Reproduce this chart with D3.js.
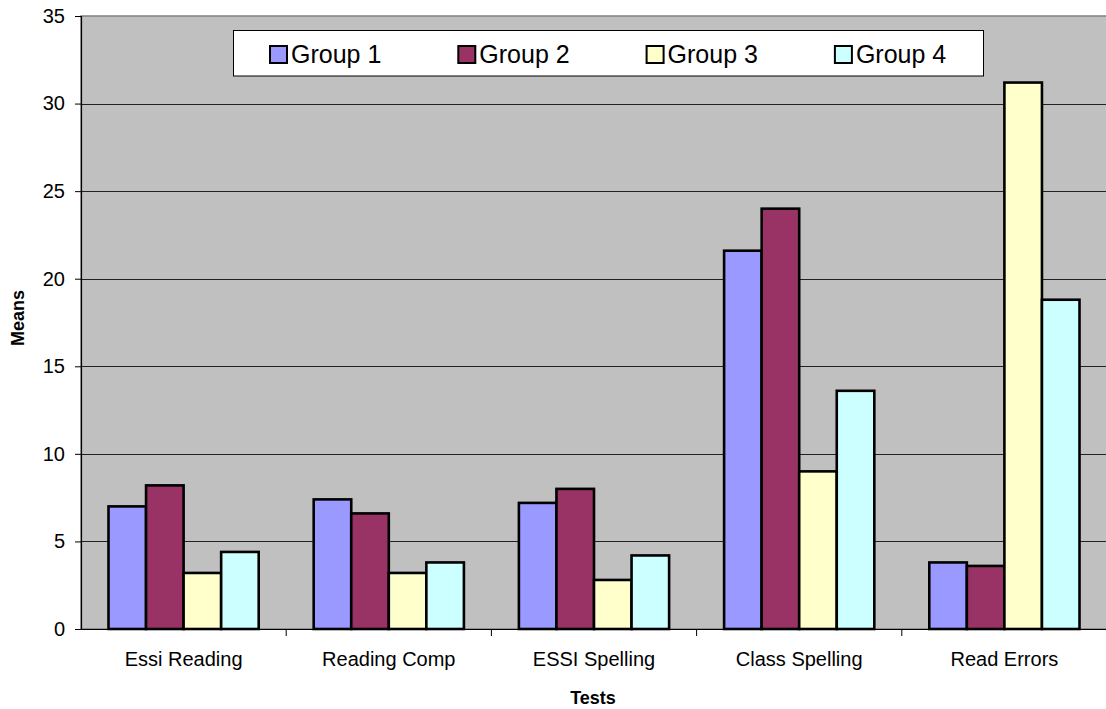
<!DOCTYPE html>
<html>
<head>
<meta charset="utf-8">
<script src="https://cdn.jsdelivr.net/npm/d3@7"></script>
<style>
  html, body { margin: 0; padding: 0; background: #fff; }
  svg { display: block; font-family: "Liberation Sans", Arial, sans-serif; }
</style>
</head>
<body>
<svg id="chart" width="1106" height="709"></svg>
<script>
// Test categories and group means
const tests = ["Essi Reading", "Reading Comp", "ESSI Spelling", "Class Spelling", "Read Errors"];
const groups = ["Group 1", "Group 2", "Group 3", "Group 4"];
const group1 = [7.0, 7.4, 7.2, 21.6, 3.8];
const group2 = [8.2, 6.6, 8.0, 24.0, 3.6];
const group3 = [3.2, 3.2, 2.8, 9.0, 31.2];
const group4 = [4.4, 3.8, 4.2, 13.6, 18.8];
const yTicks = [0, 5, 10, 15, 20, 25, 30, 35];
const colors = ["#9999FF", "#993366", "#FFFFCC", "#CCFFFF"];

const seriesValues = [group1, group2, group3, group4];
const rows = tests.map((t, i) => ({
  test: t,
  values: groups.map((g, j) => ({ group: g, value: seriesValues[j][i], idx: j }))
}));

const svg = d3.select("#chart");
const plot = { left: 81, top: 16, right: 1107, bottom: 629 };

const x = d3.scaleBand().domain(tests).range([plot.left, plot.right]).padding(0);
const inner = d3.scaleBand().domain(groups)
  .range([x.bandwidth() * 0.134, x.bandwidth() * 0.866]).padding(0);
const y = d3.scaleLinear().domain([0, 35]).range([plot.bottom, plot.top]);

// plot background
svg.append("rect")
  .attr("x", plot.left).attr("y", plot.top)
  .attr("width", plot.right - plot.left).attr("height", plot.bottom - plot.top)
  .attr("fill", "#C0C0C0").attr("stroke", "#808080").attr("stroke-width", 1.5);

// horizontal gridlines
svg.append("g").selectAll("line")
  .data(yTicks.filter(d => d > 0 && d < 35))
  .join("line")
  .attr("x1", plot.left).attr("x2", plot.right)
  .attr("y1", d => Math.round(y(d)) + 0.5).attr("y2", d => Math.round(y(d)) + 0.5)
  .attr("stroke", "#222").attr("stroke-width", 1);

// bars
const groupsG = svg.append("g").selectAll("g")
  .data(rows).join("g")
  .attr("transform", d => `translate(${x(d.test)},0)`);

groupsG.selectAll("rect")
  .data(d => d.values).join("rect")
  .attr("x", d => inner(d.group))
  .attr("y", d => y(d.value))
  .attr("width", inner.bandwidth())
  .attr("height", d => y(0) - y(d.value))
  .attr("fill", d => colors[d.idx])
  .attr("stroke", "#000").attr("stroke-width", 2.6);

// y axis
const yAxis = d3.axisLeft(y).tickValues(yTicks).tickSize(6).tickPadding(10).tickFormat(d3.format("d"));
const yg = svg.append("g").attr("transform", `translate(${plot.left},0)`).call(yAxis);
yg.select(".domain").attr("stroke", "#000").attr("stroke-width", 1.2);
yg.selectAll(".tick line").attr("stroke", "#000");
yg.selectAll(".tick text").attr("font-size", 20).attr("fill", "#000")
  .attr("font-family", "Liberation Sans, Arial, sans-serif");

// x axis with ticks at band boundaries
const xg = svg.append("g").attr("transform", `translate(0,${plot.bottom})`);
xg.append("line").attr("x1", plot.left).attr("x2", plot.right)
  .attr("y1", 0.5).attr("y2", 0.5).attr("stroke", "#000").attr("stroke-width", 1.2);
xg.selectAll(".bt").data(tests.slice(1)).join("line")
  .attr("class", "bt")
  .attr("x1", d => x(d)).attr("x2", d => x(d))
  .attr("y1", 0).attr("y2", 7).attr("stroke", "#000");
xg.selectAll(".cl").data(tests).join("text")
  .attr("class", "cl")
  .attr("x", d => x(d) + x.bandwidth() / 2)
  .attr("y", 37)
  .attr("text-anchor", "middle")
  .attr("font-size", 20).attr("fill", "#000")
  .text(d => d);

// axis titles
svg.append("text")
  .attr("x", 593).attr("y", 704)
  .attr("text-anchor", "middle").attr("font-size", 18).attr("font-weight", "bold")
  .text("Tests");
svg.append("text")
  .attr("transform", "translate(24,318) rotate(-90)")
  .attr("text-anchor", "middle").attr("font-size", 18).attr("font-weight", "bold")
  .text("Means");

// legend
const legend = svg.append("g");
legend.append("rect")
  .attr("x", 233.5).attr("y", 30.5).attr("width", 750).attr("height", 45.5)
  .attr("fill", "#fff").attr("stroke", "#000").attr("stroke-width", 1);
const item = legend.selectAll(".li").data(groups).join("g")
  .attr("class", "li")
  .attr("transform", (d, i) => `translate(${270 + i * 188.3},0)`);
item.append("rect")
  .attr("x", 0).attr("y", 46).attr("width", 17).attr("height", 17)
  .attr("fill", (d, i) => colors[i]).attr("stroke", "#000").attr("stroke-width", 2);
item.append("text")
  .attr("x", 21).attr("y", 54).attr("dy", "0.36em")
  .attr("font-size", 25).attr("fill", "#000")
  .text(d => d);
</script>
</body>
</html>
